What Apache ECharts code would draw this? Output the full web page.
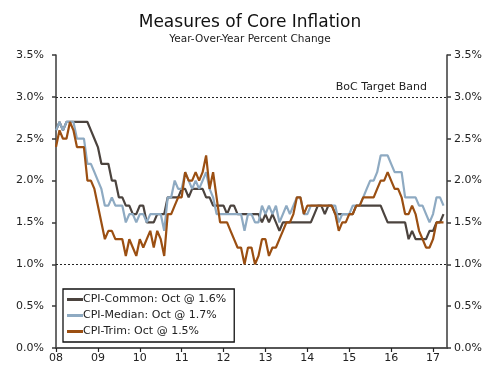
<!DOCTYPE html>
<html>
<head>
<meta charset="utf-8">
<script src="https://cdn.jsdelivr.net/npm/echarts@6/dist/echarts.min.js"></script>
<style>
html,body{margin:0;padding:0;background:#fff;}
#chart{width:500px;height:369px;}
</style>
</head>
<body>
<div id="chart"></div>
<script>
// Monthly observations, first point Jul 2008, last point Oct 2017
const startYear = 2008, startMonth = 7, nMonths = 113;
const seriesNames = ['CPI-Common: Oct @ 1.6%', 'CPI-Median: Oct @ 1.7%', 'CPI-Trim: Oct @ 1.5%'];
const yTicks = [0, 0.5, 1.0, 1.5, 2.0, 2.5, 3.0, 3.5];
const bandLines = [1.0, 3.0];
const bandLabel = 'BoC Target Band';

const cpiCommon = [2.6,2.7,2.6,2.7,2.7,2.7,2.7,2.7,2.7,2.7,2.6,2.5,2.4,2.2,2.2,2.2,2.0,2.0,1.8,1.8,
1.7,1.7,1.6,1.6,1.7,1.7,1.5,1.5,1.5,1.6,1.6,1.6,1.8,1.8,1.8,1.8,1.9,1.9,1.8,1.9,
1.9,1.9,1.9,1.8,1.8,1.7,1.7,1.7,1.7,1.6,1.7,1.7,1.6,1.6,1.6,1.6,1.6,1.6,1.6,1.5,
1.6,1.5,1.6,1.5,1.4,1.5,1.5,1.5,1.5,1.5,1.5,1.5,1.5,1.5,1.6,1.7,1.7,1.6,1.7,1.7,
1.6,1.6,1.6,1.6,1.6,1.6,1.7,1.7,1.7,1.7,1.7,1.7,1.7,1.7,1.6,1.5,1.5,1.5,1.5,1.5,
1.5,1.3,1.4,1.3,1.3,1.3,1.3,1.4,1.4,1.5,1.5,1.6];

const cpiMedian = [2.6,2.7,2.6,2.7,2.7,2.7,2.5,2.5,2.5,2.2,2.2,2.1,2.0,1.9,1.7,1.7,1.8,1.7,1.7,1.7,
1.5,1.6,1.6,1.5,1.6,1.6,1.5,1.6,1.6,1.6,1.6,1.4,1.8,1.8,2.0,1.9,1.9,2.1,2.0,1.9,
2.0,1.9,2.0,2.1,1.9,1.8,1.6,1.6,1.6,1.6,1.6,1.6,1.6,1.6,1.4,1.6,1.6,1.5,1.5,1.7,
1.6,1.7,1.6,1.7,1.5,1.6,1.7,1.6,1.7,1.8,1.8,1.6,1.6,1.7,1.7,1.7,1.7,1.7,1.7,1.7,
1.7,1.5,1.6,1.6,1.6,1.7,1.7,1.7,1.8,1.9,2.0,2.0,2.1,2.3,2.3,2.3,2.2,2.1,2.1,2.1,
1.8,1.8,1.8,1.8,1.7,1.7,1.6,1.5,1.6,1.8,1.8,1.7];

const cpiTrim = [2.4,2.6,2.5,2.5,2.7,2.6,2.4,2.4,2.4,2.0,2.0,1.9,1.7,1.5,1.3,1.4,1.4,1.3,1.3,1.3,
1.1,1.3,1.2,1.1,1.3,1.2,1.3,1.4,1.2,1.4,1.3,1.1,1.6,1.6,1.7,1.8,1.8,2.1,2.0,2.0,
2.1,2.0,2.1,2.3,1.9,2.1,1.8,1.5,1.5,1.5,1.4,1.3,1.2,1.2,1.0,1.2,1.2,1.0,1.1,1.3,
1.3,1.1,1.2,1.2,1.3,1.4,1.5,1.5,1.6,1.8,1.8,1.6,1.7,1.7,1.7,1.7,1.7,1.7,1.7,1.7,
1.6,1.4,1.5,1.5,1.6,1.6,1.7,1.7,1.8,1.8,1.8,1.8,1.9,2.0,2.0,2.1,2.0,1.9,1.9,1.8,
1.6,1.6,1.7,1.6,1.4,1.3,1.2,1.2,1.3,1.5,1.5,1.5];

const colors = ['#4b433e', '#8eaac2', '#9b4f12'];

const months = [];
for (let i = 0; i < nMonths; i++) {
  const m = startMonth - 1 + i;
  const y = startYear + Math.floor(m / 12);
  const mm = (m % 12) + 1;
  months.push(y + '-' + (mm < 10 ? '0' : '') + mm);
}
const isYearTick = (idx) => idx % 12 === 0;

const FONT = 'DejaVu Sans';
const chart = echarts.init(document.getElementById('chart'), null, {renderer: 'canvas'});

const yAxisCommon = {
  type: 'value', min: 0, max: 3.5, interval: 0.5,
  axisLine: {show: true, lineStyle: {color: '#3a3a3a', width: 1.5}},
  axisTick: {show: true, length: 4, lineStyle: {color: '#3a3a3a', width: 1.5}},
  axisLabel: {formatter: v => v.toFixed(1) + '%', fontFamily: FONT, fontSize: 11, color: '#222'},
  splitLine: {show: false}
};

const seriesData = [cpiCommon, cpiMedian, cpiTrim];

const option = {
  animation: false,
  backgroundColor: '#fff',
  title: {
    text: 'Measures of Core Inflation',
    subtext: 'Year-Over-Year Percent Change',
    left: 'center', top: 9, itemGap: 3,
    textStyle: {fontFamily: FONT, fontSize: 17, fontWeight: 'normal', color: '#111'},
    subtextStyle: {fontFamily: FONT, fontSize: 10.5, color: '#222'}
  },
  legend: {
    orient: 'vertical', left: 63, top: 289,
    data: seriesNames,
    icon: 'rect', itemWidth: 16, itemHeight: 3, itemGap: 5,
    backgroundColor: '#fff', borderColor: '#111', borderWidth: 1.3,
    padding: [5, 8, 5, 4],
    textStyle: {fontFamily: FONT, fontSize: 11, color: '#222', padding: [0, 0, 0, -5]}
  },
  grid: {left: 56, right: 53, top: 55, bottom: 21, containLabel: false},
  xAxis: [{
    type: 'category', boundaryGap: false, data: months,
    axisLine: {show: true, lineStyle: {color: '#222', width: 1.5}},
    axisTick: {show: true, interval: isYearTick, length: 4, lineStyle: {color: '#222', width: 1.2}},
    axisLabel: {interval: isYearTick, formatter: v => v.slice(2, 4), fontFamily: FONT, fontSize: 11, color: '#222', margin: 5},
    splitLine: {show: false}
  }, {
    type: 'category', boundaryGap: false, data: months, position: 'top',
    axisLine: {show: true, lineStyle: {color: '#555', width: 1.5}},
    axisTick: {show: false}, axisLabel: {show: false}
  }],
  yAxis: [
    Object.assign({}, yAxisCommon, {position: 'left', axisLabel: Object.assign({}, yAxisCommon.axisLabel, {margin: 12})}),
    Object.assign({}, yAxisCommon, {position: 'right', axisLabel: Object.assign({}, yAxisCommon.axisLabel, {margin: 7})})
  ],
  series: seriesNames.map((name, k) => ({
    name: name, type: 'line', symbol: 'none', z: 3 + k,
    yAxisIndex: 0,
    data: seriesData[k],
    lineStyle: {color: colors[k], width: 2.2},
    itemStyle: {color: colors[k]},
    markLine: k === 0 ? {
      silent: true, symbol: 'none',
      lineStyle: {color: '#222', type: [2, 2], width: 1},
      data: bandLines.map((v, j) => ({
        yAxis: v,
        label: j === 1 ? {show: true, formatter: bandLabel, position: 'insideEndTop', distance: [20, 4],
          fontFamily: FONT, fontSize: 11, color: '#222'} : {show: false}
      }))
    } : undefined
  }))
};
chart.setOption(option);
</script>
</body>
</html>
